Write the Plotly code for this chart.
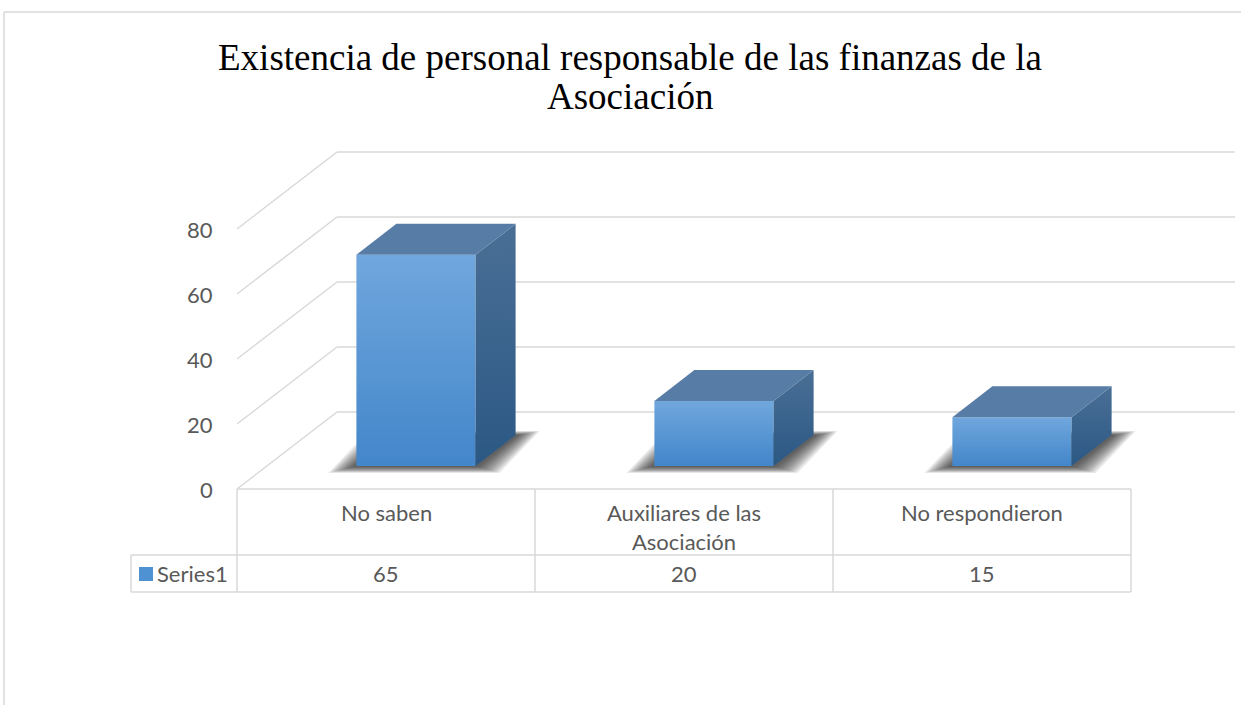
import plotly.graph_objects as go

# ---------------- data ----------------
categories = ["No saben", "Auxiliares de las<br>Asociación", "No respondieron"]
values = [65, 20, 15]
series_name = "Series1"
y_ticks = [0, 20, 40, 60, 80]
title_lines = ["Existencia de personal responsable de las finanzas de la",
               "Asociación"]

# ---------------- geometry ----------------
W, H = 1241, 705
CAT_PX = 298.0          # pixels per category
X0_PX = 237.0           # left edge of category area
Y0_PX = 489.0           # value 0 at front
PX_PER_UNIT = 3.25      # pixels per value unit


def cx(px):
    return (px - X0_PX) / CAT_PX - 0.5


def vy(py):
    return (Y0_PX - py) / PX_PER_UNIT


PXX = 1 / CAT_PX        # one pixel in category units
PXY = 1 / PX_PER_UNIT   # one pixel in value units
DX = 100 * PXX          # depth shift, category units
DY = 77 * PXY           # depth shift, value units
BAR_W = 0.40
FRONT_D = 0.30
BAR_D = 0.40

GRID = "#d9d9d9"
TXT = "#595959"
FONT = "Lato"
FS = 22

fig = go.Figure()


def add_lines(segs, color=GRID, width=1.5):
    xs, ys = [], []
    for (x1, y1, x2, y2) in segs:
        xs += [x1, x2, None]
        ys += [y1, y2, None]
    fig.add_trace(go.Scatter(x=xs, y=ys, mode="lines",
                             line=dict(color=color, width=width),
                             hoverinfo="skip", showlegend=False))


# back wall gridlines + left wall diagonals
wall_right = 2.5 + DX * 1.04
segs = []
for v in y_ticks:
    segs.append((-0.5 + DX, v + DY, wall_right, v + DY))
    segs.append((-0.5, v, -0.5 + DX, v + DY))
add_lines(segs)


def poly(xs, ys, **kw):
    fig.add_trace(go.Scatter(x=xs + [xs[0]], y=ys + [ys[0]], mode="lines",
                             fill="toself", line=dict(width=0),
                             hoverinfo="skip", showlegend=False, **kw))


# soft shadows under bars (bottom face, blurred outward)
N_SH = 12
for i, h in enumerate(values):
    L = i - BAR_W / 2 + DX * FRONT_D
    R = i + BAR_W / 2 + DX * FRONT_D
    y0 = DY * FRONT_D
    bx, by = DX * BAR_D, DY * BAR_D
    for t in range(N_SH):
        f = 1 - t / (N_SH - 1)
        el, er = 4 + 24 * f, 3 + 21 * f
        ed, eu = 1 + 6 * f, 4 * f
        xs = [L - el * PXX, R + er * PXX, R + bx + er * PXX, L + bx - el * PXX]
        ys = [y0 - ed * PXY, y0 - ed * PXY, y0 + by + eu * PXY,
              y0 + by + eu * PXY]
        poly(xs, ys, fillcolor="rgba(25,25,25,0.085)")

# bars
for i, h in enumerate(values):
    L = i - BAR_W / 2 + DX * FRONT_D
    R = i + BAR_W / 2 + DX * FRONT_D
    y0 = DY * FRONT_D
    y1 = h + y0
    bx, by = DX * BAR_D, DY * BAR_D
    # front face
    poly([L, R, R, L], [y0, y0, y1, y1],
         fillgradient=dict(type="vertical",
                           colorscale=[[0, "#4386ca"], [1, "#70a7dd"]]))
    # side face
    poly([R, R + bx, R + bx, R], [y0, y0 + by, y1 + by, y1],
         fillgradient=dict(type="vertical",
                           colorscale=[[0, "#2b5884"], [1, "#4a6f96"]]))
    # top face
    poly([L, R, R + bx, L + bx], [y1, y1, y1 + by, y1 + by],
         fillcolor="#577ca6")

# data table lines
t_left = cx(131)
r1 = vy(555)
r2 = vy(592)
tsegs = [(-0.5, 0, 2.5, 0), (t_left, r1, 2.5, r1), (t_left, r2, 2.5, r2),
         (t_left, r1, t_left, r2)]
for k in range(4):
    tsegs.append((-0.5 + k, 0, -0.5 + k, r2))
add_lines(tsegs)

# legend key
fig.add_trace(go.Scatter(x=[cx(146)], y=[vy(574)], mode="markers",
                         marker=dict(symbol="square", size=14, color="#4f92d4",
                                     line=dict(width=0)),
                         hoverinfo="skip", showlegend=False))

ann = []
for v in y_ticks:
    ann.append(dict(x=cx(215), y=v, text=str(v), showarrow=False,
                    xanchor="right", yanchor="middle",
                    font=dict(family=FONT, size=FS, color=TXT)))
for i, c in enumerate(categories):
    ann.append(dict(x=i, y=vy(497), text=c, showarrow=False,
                    xanchor="center", yanchor="top",
                    font=dict(family=FONT, size=FS, color=TXT)))
    ann.append(dict(x=i, y=vy(573), text=str(values[i]), showarrow=False,
                    xanchor="center", yanchor="middle",
                    font=dict(family=FONT, size=FS, color=TXT)))
ann.append(dict(x=cx(155), y=vy(573), text=series_name, showarrow=False,
                xanchor="left", yanchor="middle",
                font=dict(family=FONT, size=FS, color=TXT)))
for k, line in enumerate(title_lines):
    ann.append(dict(x=630 / W, y=1 - (57 + 40 * k) / H, xref="paper",
                    yref="paper", text=line, showarrow=False,
                    xanchor="center", yanchor="middle",
                    font=dict(family="Liberation Serif", size=37,
                              color="#000000")))

fig.update_layout(
    width=W, height=H,
    margin=dict(l=0, r=0, t=0, b=0),
    paper_bgcolor="white", plot_bgcolor="white",
    xaxis=dict(range=[cx(0), cx(W)], visible=False, fixedrange=True),
    yaxis=dict(range=[vy(H), vy(0)], visible=False, fixedrange=True),
    annotations=ann,
    shapes=[
        dict(type="line", xref="paper", yref="paper", x0=4 / W, x1=1,
             y0=1 - 12 / H, y1=1 - 12 / H, line=dict(color=GRID, width=1.5)),
        dict(type="line", xref="paper", yref="paper", x0=4 / W, x1=4 / W,
             y0=0, y1=1 - 12 / H, line=dict(color=GRID, width=1.5)),
    ],
    showlegend=False,
)

fig.write_html("out.html",
               config={"displayModeBar": False},
               post_script="document.body.style.margin='0';"
                           "document.body.style.overflow='hidden';")
